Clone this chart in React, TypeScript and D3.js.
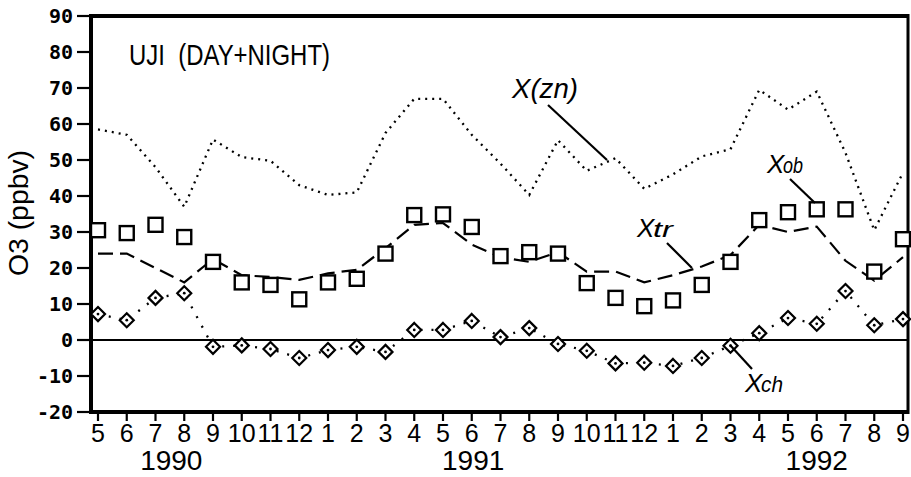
import React from "react";
import * as d3 from "d3";

const months = ["5","6","7","8","9","10","11","12","1","2","3","4","5","6","7","8","9","10","11","12","1","2","3","4","5","6","7","8","9"];
const yearLabels = ["1990", "1991", "1992"];
const yearAt = [2.55, 13.05, 25.0];
const yTicks = [-20, -10, 0, 10, 20, 30, 40, 50, 60, 70, 80, 90];

const xZn = [58.5, 57, 48, 37, 55.7, 50.8, 49.8, 43, 40.3, 41, 57.5, 67, 67, 57, 49, 40.3, 55.5, 47, 50.5, 42, 46, 51, 53, 69.5, 64, 69, 52, 30.5, 46.5];
const xOb = [30.5, 29.7, 32, 28.6, 21.7, 16, 15.3, 11.3, 16, 17, 24, 34.7, 34.9, 31.4, 23.3, 24.4, 24, 15.8, 11.7, 9.4, 11, 15.3, 21.7, 33.3, 35.5, 36.3, 36.3, 19, 28];
const xTr = [24, 24, 20, 16, 22.5, 18, 17.5, 16.7, 18.5, 19.5, 25.5, 32, 32.5, 26.5, 23, 21.7, 24.4, 19, 19, 16, 18, 20.4, 23.6, 32, 30, 31.5, 22, 16.5, 23];
const xCh = [7.2, 5.5, 11.7, 13, -1.9, -1.5, -2.5, -5, -2.8, -1.9, -3.3, 2.8, 2.8, 5.3, 0.8, 3.3, -1.1, -3, -6.5, -6.3, -7.2, -5, -1.6, 1.9, 6.1, 4.5, 13.6, 4.1, 5.8];

const W = 911, H = 477;
const L = 91, R = 908, T = 16, B = 412;

export default function App() {
  const x = d3.scaleLinear().domain([0, 28]).range([98, 903]);
  const y = d3.scaleLinear().domain([-20, 90]).range([B, T]);
  const idx = months.map((_, i) => i);
  const line = (vals: number[]) =>
    d3.line<number>().x((_, i) => x(i)).y((v) => y(v))(vals) || "";

  const sans = "'Liberation Sans', Arial, sans-serif";
  const mono = "'DejaVu Sans Mono', monospace";

  const label = (main: string, sub: string, lx: number, ly: number, len: number) => (
    <g>
      <text x={lx} y={ly} fontFamily={sans} fontStyle="italic" fontSize={26} fill="#000">{main}</text>
      <text x={lx + 16} y={ly} fontFamily={sans} fontStyle="italic" fontSize={22} fill="#000" textLength={len - 16} lengthAdjust="spacingAndGlyphs">{sub}</text>
    </g>
  );

  return (
    <svg width={W} height={H} style={{ position: "absolute", left: 0, top: 0, background: "#fff" }}>
      <rect x={0} y={0} width={W} height={H} fill="#fff" />
      {/* frame */}
      <line x1={L} y1={T} x2={R} y2={T} stroke="#000" strokeWidth={4} />
      <line x1={L} y1={B} x2={R} y2={B} stroke="#000" strokeWidth={4} />
      <line x1={L} y1={T - 2} x2={L} y2={B + 2} stroke="#000" strokeWidth={4} />
      <line x1={R} y1={T - 2} x2={R} y2={B + 2} stroke="#000" strokeWidth={3} />
      {/* zero line */}
      <line x1={L} y1={y(0)} x2={R} y2={y(0)} stroke="#000" strokeWidth={2.2} />

      {/* y ticks */}
      {yTicks.map((t) => (
        <g key={t}>
          <line x1={L - 14} x2={L} y1={y(t)} y2={y(t)} stroke="#000" strokeWidth={2.2} />
          <text x={73} y={y(t)} dy="0.36em" textAnchor="end" fontFamily={mono} fontWeight="bold" fontSize={20} fill="#000">
            {t}
          </text>
        </g>
      ))}
      <text transform={`translate(28,213) rotate(-90)`} textAnchor="middle" fontFamily={sans} fontSize={27} fill="#000" textLength={126} lengthAdjust="spacingAndGlyphs">
        O3 (ppbv)
      </text>

      {/* x ticks */}
      {idx.map((i) => (
        <g key={i}>
          <line x1={x(i)} x2={x(i)} y1={B} y2={B + 9} stroke="#000" strokeWidth={2.2} />
          <text x={x(i)} y={442} textAnchor="middle" fontFamily={sans} fontSize={25} fill="#000">
            {months[i]}
          </text>
        </g>
      ))}
      {yearLabels.map((yl, k) => (
        <text key={yl} x={x(yearAt[k])} y={470} textAnchor="middle" fontFamily={sans} fontSize={28} fill="#000">
          {yl}
        </text>
      ))}

      {/* X(zn) dotted */}
      <path d={line(xZn)} fill="none" stroke="#000" strokeWidth={2.3} strokeDasharray="2 5" />
      {/* Xtr dashed */}
      <path d={line(xTr)} fill="none" stroke="#000" strokeWidth={2.2} strokeDasharray="15 7" />
      {/* Xch dotted connectors */}
      <path d={line(xCh)} fill="none" stroke="#000" strokeWidth={2.3} strokeDasharray="2 9" />

      {/* Xob squares */}
      {xOb.map((v, i) => (
        <rect key={i} x={x(i) - 7} y={y(v) - 7} width={14} height={14} fill="#fff" stroke="#000" strokeWidth={2.4} />
      ))}
      {/* Xch diamonds */}
      {xCh.map((v, i) => (
        <g key={i} transform={`translate(${x(i)},${y(v)})`}>
          <path d="M0,-7 L7,0 L0,7 L-7,0 Z" fill="#fff" stroke="#000" strokeWidth={2.2} />
          <circle r={1.4} fill="#000" />
        </g>
      ))}

      {/* annotations */}
      <text x={129} y={65} fontFamily={sans} fontSize={29} fill="#000" textLength={201} lengthAdjust="spacingAndGlyphs">
        UJI{"\u00a0\u00a0"}(DAY+NIGHT)
      </text>
      <text x={512} y={98} fontFamily={sans} fontStyle="italic" fontSize={27} fill="#000" textLength={66} lengthAdjust="spacingAndGlyphs">X(zn)</text>
      <line x1={548} y1={105} x2={607} y2={160} stroke="#000" strokeWidth={2.2} />
      {label("X", "ob", 767, 173, 36)}
      <line x1={790} y1={179} x2={815} y2={203} stroke="#000" strokeWidth={2.2} />
      {label("X", "tr", 637, 237, 36)}
      <line x1={667} y1={243} x2={692} y2={268} stroke="#000" strokeWidth={2.2} />
      {label("X", "ch", 745, 392, 38)}
      <line x1={730} y1={345} x2={752} y2={369} stroke="#000" strokeWidth={2.2} />
    </svg>
  );
}
